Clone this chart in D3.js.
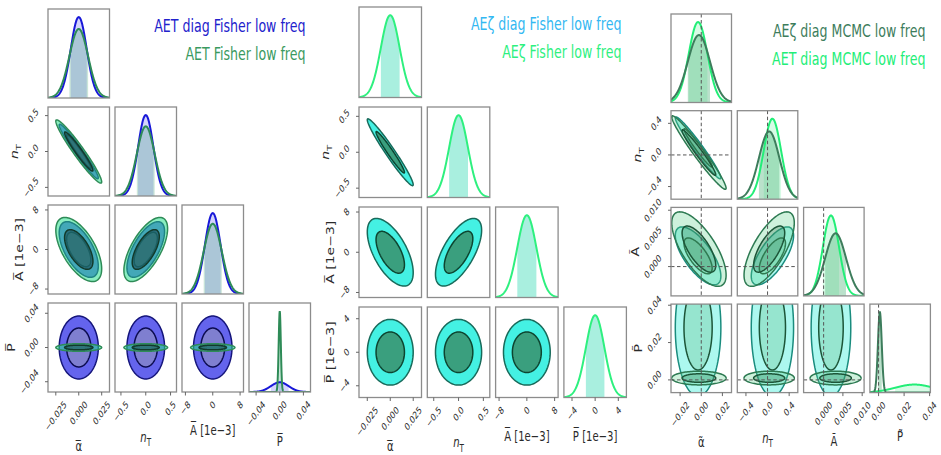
<!DOCTYPE html>
<html>
<head>
<meta charset="utf-8">
<script src="https://cdn.jsdelivr.net/npm/d3@7"></script>
<style>
  body { margin: 0; background: #fff; }
  svg { display: block; }
  text { font-family: "DejaVu Sans", sans-serif; }
</style>
</head>
<body>
<svg id="chart" width="941" height="455"></svg>
<script>
// order of the correlation entries in the *Corr arrays below
var pairOrder = [[0, 1], [0, 2], [1, 2], [0, 3], [1, 3], [2, 3]];

// ---- left: AET Fisher forecasts ----
var p1Names = ["AET diag Fisher low freq", "AET Fisher low freq"];
var p1Mean = [[0, 0, 0, 0], [0, 0, 0, 0]];
var p1Sigma = [[0.0087, 0.155, 2.3, 0.015], [0.0102, 0.18, 2.65, 0.0018]];
var p1Corr = [[-0.97, -0.6, 0.65, 0, 0, 0], [-0.96, -0.6, 0.65, 0, 0, 0]];
var p1Range = [[-0.0335, 0.0335], [-0.62, 0.62], [-9, 9], [-0.052, 0.052]];
var p1Ticks = [[-0.025, 0, 0.025], [-0.5, 0, 0.5], [-8, 0, 8], [-0.04, 0, 0.04]];
var p1TickText = [["−0.025", "0.000", "0.025"], ["−0.5", "0.0", "0.5"], ["−8", "0", "8"], ["−0.04", "0.00", "0.04"]];

// ---- middle: AEζ Fisher forecasts (both runs coincide) ----
var p2Names = ["AEζ diag Fisher low freq", "AEζ Fisher low freq"];
var p2Mean = [[0, 0, 0, 0]];
var p2Sigma = [[0.0102, 0.19, 2.75, 1.6]];
var p2Corr = [[-0.97, -0.6, 0.65, 0, 0, 0]];
var p2Range = [[-0.034, 0.034], [-0.63, 0.63], [-9, 9], [-5.4, 5.4]];
var p2Ticks = [[-0.025, 0, 0.025], [-0.5, 0, 0.5], [-8, 0, 8], [-4, 0, 4]];
var p2TickText = [["−0.025", "0.000", "0.025"], ["−0.5", "0.0", "0.5"], ["−8", "0", "8"], ["−4", "0", "4"]];

// ---- right: MCMC runs ----
var p3Names = ["AEζ diag MCMC low freq", "AET diag MCMC low freq"];
var p3Mean = [[-0.0022, 0.03, 0.0031, 0.001], [-0.003, 0.09, 0.0019, 0.028]];
var p3Sigma = [[0.0105, 0.19, 0.0027, 0.0015], [0.0088, 0.16, 0.0021, 0.015]];
var p3Corr = [[-0.97, -0.7, 0.7, 0, 0, 0], [-0.97, -0.7, 0.7, 0, 0, 0]];
var p3Range = [[-0.0286, 0.0286], [-0.56, 0.56], [-0.0052, 0.0105], [-0.0068, 0.0406]];
var p3Ticks = [[-0.02, 0, 0.02], [-0.4, 0, 0.4], [0, 0.005, 0.010], [0, 0.02, 0.04]];
var p3TickText = [["−0.02", "0.00", "0.02"], ["−0.4", "0.0", "0.4"], ["0.000", "0.005", "0.010"], ["0.00", "0.02", "0.04"]];
var p3Truth = [0, 0, 0, 0];

// axis labels (parts: text, italic, subscript)
var barLabels = [[{t: "α\u0305"}], [{t: "n", it: 1}, {t: "T", sub: 1}], [{t: "A\u0305"}, {t: " [1e−3]"}], [{t: "P\u0305"}]];
var barLabels2 = [[{t: "α\u0305"}], [{t: "n", it: 1}, {t: "T", sub: 1}], [{t: "A\u0305"}, {t: " [1e−3]"}], [{t: "P\u0305"}, {t: " [1e−3]"}]];
var tildeLabels = [[{t: "α\u0303"}], [{t: "n", it: 1}, {t: "T", sub: 1}], [{t: "A\u0303"}], [{t: "P\u0303"}]];

var SX = 0.72;               // the figure is squeezed horizontally
var K95 = 2.448, K68 = 1.515;
var tickFont = 10.2, labelFont = 14, legendFont = 17.5;

var blueStyle = {line: "#1818d8", fill95: "#2828e6", op95: 0.72, edge95: "#14147a", fill68: "#9a9ab4", op68: 0.5, edge68: "#0c0c50", band: "#3a3af0", bandOp: 0.22};
var greenStyle = {line: "#2e8b57", fill95: "#28e08c", op95: 0.55, edge95: "#2e8b57", fill68: "#1a4a58", op68: 0.6, edge68: "#123a2a", band: "#2e9b67", bandOp: 0.25};
var cyanStyle = {line: "#2ef07f", fill95: "#30f0e0", op95: 0.9, edge95: "#186a5a", fill68: "#3a9a78", op68: 0.95, edge68: "#0d4530", band: "#40dcb8", bandOp: 0.45};
var darkStyle = {line: "#3d7d5c", fill95: "#5cd08c", op95: 0.3, edge95: "#2d7a52", fill68: "#2d7a52", op68: 0.3, edge68: "#1c5538", band: "#3aa86a", bandOp: 0.35};
var brightStyle = {line: "#22ee77", fill95: "#30eed8", op95: 0.4, edge95: "#1a8c7e", fill68: "#6cc494", op68: 0.35, edge68: "#1c5538", band: "#22ee77", bandOp: 0.18};

var svg = d3.select("#chart");
var svgH = +svg.attr("height");

function corrOf(c, i, j) {
  var a = Math.min(i, j), b = Math.max(i, j);
  for (var k = 0; k < pairOrder.length; k++) {
    if (pairOrder[k][0] === a && pairOrder[k][1] === b) return c[k];
  }
  return 0;
}

function gaussPdf(v, m, s) {
  var z = (v - m) / s;
  return Math.exp(-0.5 * z * z) / (s * Math.sqrt(2 * Math.PI));
}

function ellipse(m, s, r, i, j, k) {
  var pts = [], q = Math.sqrt(1 - r * r);
  for (var t = 0; t < 120; t++) {
    var a = 2 * Math.PI * t / 120;
    pts.push([m[i] + k * s[i] * Math.cos(a), m[j] + k * s[j] * (r * Math.cos(a) + q * Math.sin(a))]);
  }
  return pts;
}

function addText(g, parts, size, color) {
  var t = g.append("text").attr("font-size", size).attr("fill", color || "#2a2a2a");
  parts.forEach(function(p) {
    var s = t.append("tspan").text(p.t);
    if (p.it) s.attr("font-style", "italic");
    if (p.sub) s.attr("font-size", size * 0.72).attr("dy", size * 0.3);
  });
  return t;
}

function place(t, x, y, rot) {
  t.attr("transform", "translate(" + x + "," + y + ") scale(" + SX + ",1)" + (rot ? " rotate(" + rot + ")" : ""));
}

function drawPanel(cfg, pid) {
  var g = svg.append("g");
  var x = [], y = [];
  for (var i = 0; i < 4; i++) {
    var x0 = cfg.left + i * cfg.colStep, y0 = cfg.top + i * cfg.rowStep;
    x.push(d3.scaleLinear().domain(cfg.range[i]).range([x0, x0 + cfg.w]));
    y.push(d3.scaleLinear().domain(cfg.range[i]).range([y0 + cfg.h, y0]));
  }

  for (var r = 0; r < 4; r++) {
    for (var c = 0; c <= r; c++) {
      var cx0 = x[c].range()[0], cy0 = y[r].range()[1];
      var id = "clip" + pid + "_" + r + "_" + c;
      g.append("clipPath").attr("id", id).append("rect")
        .attr("x", cx0).attr("y", cy0).attr("width", cfg.w).attr("height", cfg.h);
      var cell = g.append("g").attr("clip-path", "url(#" + id + ")");

      if (r === c) {
        var lo = cfg.range[c][0], hi = cfg.range[c][1];
        var peak = d3.max(cfg.order, function(s) { return 1 / (cfg.sigma[s][c] * Math.sqrt(2 * Math.PI)); });
        var yd = d3.scaleLinear().domain([0, peak * 1.1]).range([cy0 + cfg.h, cy0]);
        cfg.order.forEach(function(s) {
          var m = cfg.mean[s][c], sd = cfg.sigma[s][c], st = cfg.styles[s];
          var a = Math.max(lo, m - sd), b = Math.min(hi, m + sd);
          var band = d3.range(61).map(function(k) { return a + (b - a) * k / 60; });
          cell.append("path").datum(band)
            .attr("d", d3.area().x(function(v) { return x[c](v); }).y0(yd(0)).y1(function(v) { return yd(gaussPdf(v, m, sd)); }))
            .attr("fill", st.band).attr("fill-opacity", st.bandOp);
        });
        cfg.order.forEach(function(s) {
          var m = cfg.mean[s][c], sd = cfg.sigma[s][c], st = cfg.styles[s];
          var xs = d3.range(241).map(function(k) { return lo + (hi - lo) * k / 240; });
          cell.append("path").datum(xs)
            .attr("d", d3.line().x(function(v) { return x[c](v); }).y(function(v) { return yd(gaussPdf(v, m, sd)); }))
            .attr("fill", "none").attr("stroke", st.line).attr("stroke-width", 2);
        });
      } else {
        cfg.order.forEach(function(s) {
          var st = cfg.styles[s], rho = corrOf(cfg.corr[s], c, r);
          var line = d3.line().curve(d3.curveLinearClosed)
            .x(function(p) { return x[c](p[0]); }).y(function(p) { return y[r](p[1]); });
          cell.append("path").datum(ellipse(cfg.mean[s], cfg.sigma[s], rho, c, r, K95))
            .attr("d", line).attr("fill", st.fill95).attr("fill-opacity", st.op95)
            .attr("stroke", st.edge95).attr("stroke-width", 1.5);
          cell.append("path").datum(ellipse(cfg.mean[s], cfg.sigma[s], rho, c, r, K68))
            .attr("d", line).attr("fill", st.fill68).attr("fill-opacity", st.op68)
            .attr("stroke", st.edge68).attr("stroke-width", 1.5);
        });
      }

      if (cfg.truth) {
        cell.append("line").attr("x1", x[c](cfg.truth[c])).attr("x2", x[c](cfg.truth[c]))
          .attr("y1", cy0).attr("y2", cy0 + cfg.h)
          .attr("stroke", "#555").attr("stroke-width", 1).attr("stroke-dasharray", "3.5,2.5");
        if (r !== c) {
          cell.append("line").attr("y1", y[r](cfg.truth[r])).attr("y2", y[r](cfg.truth[r]))
            .attr("x1", cx0).attr("x2", cx0 + cfg.w)
            .attr("stroke", "#555").attr("stroke-width", 1).attr("stroke-dasharray", "3.5,2.5");
        }
      }

      g.append("rect").attr("x", cx0).attr("y", cy0).attr("width", cfg.w).attr("height", cfg.h)
        .attr("fill", "none").attr("stroke", "#8c8c8c").attr("stroke-width", 1.3);
    }
  }

  // x ticks + labels along the bottom row
  var bottom = y[3].range()[0];
  for (var c2 = 0; c2 < 4; c2++) {
    var maxH = 0;
    cfg.ticks[c2].forEach(function(v, k) {
      var px = x[c2](v);
      g.append("line").attr("x1", px).attr("x2", px).attr("y1", bottom).attr("y2", bottom + 3.5)
        .attr("stroke", "#666").attr("stroke-width", 1);
      var t = addText(g, [{t: cfg.tickText[c2][k]}], tickFont)
        .attr("text-anchor", "middle").attr("dominant-baseline", "central");
      var L = t.node().getComputedTextLength();
      var H = (L + tickFont) / Math.SQRT2;
      maxH = Math.max(maxH, H);
      place(t, px, bottom + 7 + H / 2, -45);
    });
    var xl = addText(g, cfg.labels[c2], labelFont).attr("text-anchor", "middle");
    var base = Math.min(bottom + 7 + maxH + 7 + labelFont * 0.8, svgH - 4);
    place(xl, (x[c2].range()[0] + x[c2].range()[1]) / 2, base, 0);
  }

  // y ticks + labels down the first column
  var left = x[0].range()[0];
  for (var r2 = 1; r2 < 4; r2++) {
    var maxW = 0;
    cfg.ticks[r2].forEach(function(v, k) {
      var py = y[r2](v);
      g.append("line").attr("x1", left - 3).attr("x2", left).attr("y1", py).attr("y2", py)
        .attr("stroke", "#666").attr("stroke-width", 1);
      var t = addText(g, [{t: cfg.tickText[r2][k]}], tickFont)
        .attr("text-anchor", "middle").attr("dominant-baseline", "central");
      var L = t.node().getComputedTextLength();
      var W = SX * (L + tickFont) / Math.SQRT2;
      maxW = Math.max(maxW, W);
      place(t, left - 8 - W / 2, py, -45);
    });
    var yl = addText(g, cfg.labels[r2], labelFont).attr("text-anchor", "middle");
    var ymid = (y[r2].range()[0] + y[r2].range()[1]) / 2;
    place(yl, left - 8 - maxW - 4, ymid, -90);
  }

  // legend, right-aligned at the top
  var rightEdge = x[3].range()[1] - 5;
  cfg.names.forEach(function(nm, k) {
    var t = addText(g, [{t: nm}], legendFont, cfg.legendColors[k]).attr("text-anchor", "end");
    place(t, rightEdge, cfg.top + 23 + k * 28, 0);
  });
}

drawPanel({
  left: 48, top: 9, colStep: 67, rowStep: 98, w: 61.5, h: 89,
  names: p1Names, legendColors: ["#2222cc", "#3a9a60"],
  mean: p1Mean, sigma: p1Sigma, corr: p1Corr, order: [0, 1], styles: [blueStyle, greenStyle],
  range: p1Range, ticks: p1Ticks, tickText: p1TickText, labels: barLabels
}, 1);

drawPanel({
  left: 359, top: 7, colStep: 68.3, rowStep: 100, w: 62.5, h: 90.5,
  names: p2Names, legendColors: ["#33b8f2", "#2ef07f"],
  mean: p2Mean, sigma: p2Sigma, corr: p2Corr, order: [0], styles: [cyanStyle],
  range: p2Range, ticks: p2Ticks, tickText: p2TickText, labels: barLabels2
}, 2);

drawPanel({
  left: 671, top: 14, colStep: 66.3, rowStep: 96.7, w: 60.5, h: 88.5,
  names: p3Names, legendColors: ["#3d7d5c", "#22ee77"],
  mean: p3Mean, sigma: p3Sigma, corr: p3Corr, order: [1, 0], styles: [darkStyle, brightStyle],
  range: p3Range, ticks: p3Ticks, tickText: p3TickText, labels: tildeLabels, truth: p3Truth
}, 3);
</script>
</body>
</html>
